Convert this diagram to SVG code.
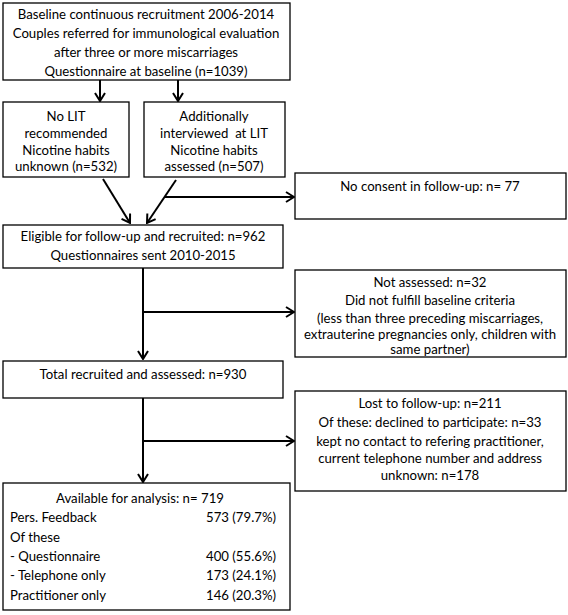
<svg xmlns="http://www.w3.org/2000/svg" width="568" height="615" viewBox="0 0 568 615">
<defs>
<marker id="ah" viewBox="0 0 10 12" refX="9" refY="6" markerWidth="10" markerHeight="12" markerUnits="userSpaceOnUse" orient="auto">
<path d="M1,1 L9,6 L1,11" fill="none" stroke="#000" stroke-width="2"/>
</marker>
<style>
.box{fill:#fff;stroke:#000;stroke-width:1.3}
.t{font-family:Lato,"Open Sans","Liberation Sans",sans-serif;font-size:13.2px;fill:#000}
.c{text-anchor:middle}
.r{text-anchor:end}
.ln{fill:none;stroke:#000;stroke-width:2}
</style>
</defs>
<rect width="568" height="615" fill="#fff"/>
<g id="connectors">
<line class="ln" x1="100" y1="80" x2="100" y2="101" marker-end="url(#ah)"/>
<line class="ln" x1="178" y1="80" x2="178" y2="101" marker-end="url(#ah)"/>
<line class="ln" x1="103" y1="179" x2="130" y2="223" marker-end="url(#ah)"/>
<line class="ln" x1="176" y1="180" x2="147" y2="223" marker-end="url(#ah)"/>
<line class="ln" x1="164" y1="197" x2="294" y2="197" marker-end="url(#ah)"/>
<line class="ln" x1="143" y1="268" x2="143" y2="359" marker-end="url(#ah)"/>
<line class="ln" x1="143" y1="312" x2="294" y2="312" marker-end="url(#ah)"/>
<line class="ln" x1="143" y1="398" x2="143" y2="482" marker-end="url(#ah)"/>
<line class="ln" x1="143" y1="441" x2="294" y2="441" marker-end="url(#ah)"/>
</g>
<g id="baseline">
<rect class="box" x="3" y="3" width="287" height="77"/>
<text class="t c" x="146" y="19">Baseline continuous recruitment 2006-2014</text>
<text class="t c" x="146" y="38">Couples referred for immunological evaluation</text>
<text class="t c" x="146" y="57">after three or more miscarriages</text>
<text class="t c" x="146" y="76">Questionnaire at baseline (n=1039)</text>
</g>
<g id="nolit">
<rect class="box" x="3" y="102" width="126" height="75"/>
<text class="t c" x="66" y="121">No LIT</text>
<text class="t c" x="66" y="138">recommended</text>
<text class="t c" x="66" y="155">Nicotine habits</text>
<text class="t c" x="66" y="171">unknown (n=532)</text>
</g>
<g id="interviewed">
<rect class="box" x="144" y="102" width="141" height="75"/>
<text class="t c" x="214" y="121">Additionally</text>
<text class="t c" x="214" y="138" xml:space="preserve">interviewed  at LIT</text>
<text class="t c" x="214" y="155">Nicotine habits</text>
<text class="t c" x="214" y="171">assessed (n=507)</text>
</g>
<g id="noconsent">
<rect class="box" x="295" y="173" width="271" height="46"/>
<text class="t c" x="430" y="191">No consent in follow-up: n= 77</text>
</g>
<g id="eligible">
<rect class="box" x="3" y="225" width="280" height="43"/>
<text class="t c" x="143" y="241">Eligible for follow-up and recruited: n=962</text>
<text class="t c" x="143" y="260">Questionnaires sent 2010-2015</text>
</g>
<g id="notassessed">
<rect class="box" x="295" y="270" width="271" height="87"/>
<text class="t c" x="430" y="287">Not assessed: n=32</text>
<text class="t c" x="430" y="305">Did not fulfill baseline criteria</text>
<text class="t c" x="430" y="323">(less than three preceding miscarriages,</text>
<text class="t c" x="430" y="339">extrauterine pregnancies only, children with</text>
<text class="t c" x="430" y="354">same partner)</text>
</g>
<g id="total">
<rect class="box" x="3" y="361" width="280" height="37"/>
<text class="t c" x="143" y="379">Total recruited and assessed: n=930</text>
</g>
<g id="lost">
<rect class="box" x="295" y="391" width="271" height="100"/>
<text class="t c" x="430" y="408">Lost to follow-up: n=211</text>
<text class="t c" x="430" y="427">Of these: declined to participate: n=33</text>
<text class="t c" x="430" y="446">kept no contact to refering practitioner,</text>
<text class="t c" x="430" y="463">current telephone number and address</text>
<text class="t c" x="430" y="480">unknown: n=178</text>
</g>
<g id="available">
<rect class="box" x="3" y="483" width="287" height="127"/>
<text class="t c" x="140" y="503">Available for analysis: n= 719</text>
<text class="t" x="10" y="522">Pers. Feedback</text>
<text class="t r" x="276" y="522">573 (79.7%)</text>
<text class="t" x="10" y="542">Of these</text>
<text class="t" x="10" y="561">- Questionnaire</text>
<text class="t r" x="276" y="561">400 (55.6%)</text>
<text class="t" x="10" y="580">- Telephone only</text>
<text class="t r" x="276" y="580">173 (24.1%)</text>
<text class="t" x="10" y="600">Practitioner only</text>
<text class="t r" x="276" y="600">146 (20.3%)</text>
</g>
</svg>
